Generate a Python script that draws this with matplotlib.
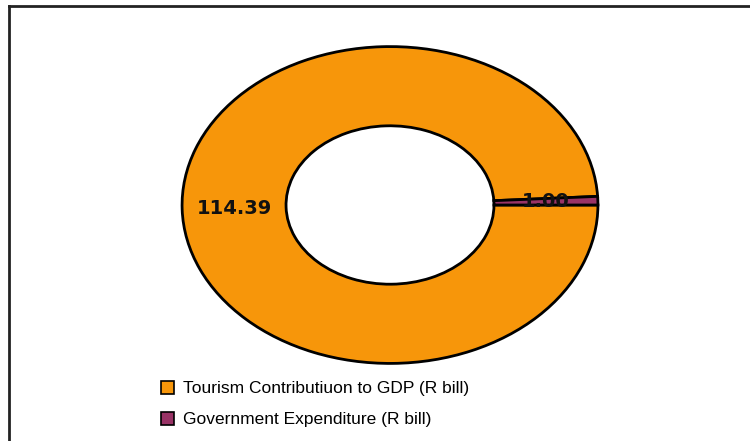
import matplotlib.pyplot as plt
from matplotlib.patches import Patch
from matplotlib.lines import Line2D

# data
labels = ['Tourism Contributiuon to GDP (R bill)', 'Government Expenditure (R bill)']
values = [114.39, 1.00]
colors = ['#F7960A', '#993366']
total = sum(values)

plt.rcParams['font.family'] = ['Liberation Sans', 'DejaVu Sans']

fig = plt.figure(figsize=(7.5, 4.41), dpi=100)
ax = fig.add_axes([180 / 750, (441 - 365) / 441, 420 / 750, 320 / 441])

wedges, texts, autotexts = ax.pie(
    values, colors=colors, startangle=0, counterclock=False,
    radius=1.0, wedgeprops=dict(width=0.5, edgecolor='black', linewidth=2),
    autopct=lambda p: f'{p * total / 100:.2f}', pctdistance=0.75,
    textprops=dict(fontsize=14, fontweight='bold', color='#111111',
                   family='DejaVu Sans'))
ax.set_aspect('auto')
ax.set_xlim(-1.01, 1.01)
ax.set_ylim(-1.01, 1.01)
ax.axis('off')

# outer frame (top and left visible)
fig.add_artist(Line2D([8.5 / 750, 8.5 / 750], [0, 1 - 5.5 / 441],
                      transform=fig.transFigure, color='#222222', lw=2))
fig.add_artist(Line2D([8.5 / 750, 1], [1 - 5.5 / 441, 1 - 5.5 / 441],
                      transform=fig.transFigure, color='#222222', lw=2))

handles = [Patch(facecolor=c, edgecolor='black', linewidth=1.2) for c in colors]
fig.legend(handles, labels, loc='upper left', bbox_to_anchor=(154 / 750, 1 - 374 / 441),
           frameon=False, fontsize=12.5, handlelength=0.75, handleheight=0.75,
           handletextpad=0.5, labelspacing=0.9, borderaxespad=0)

fig.savefig('out.png', dpi=100)
